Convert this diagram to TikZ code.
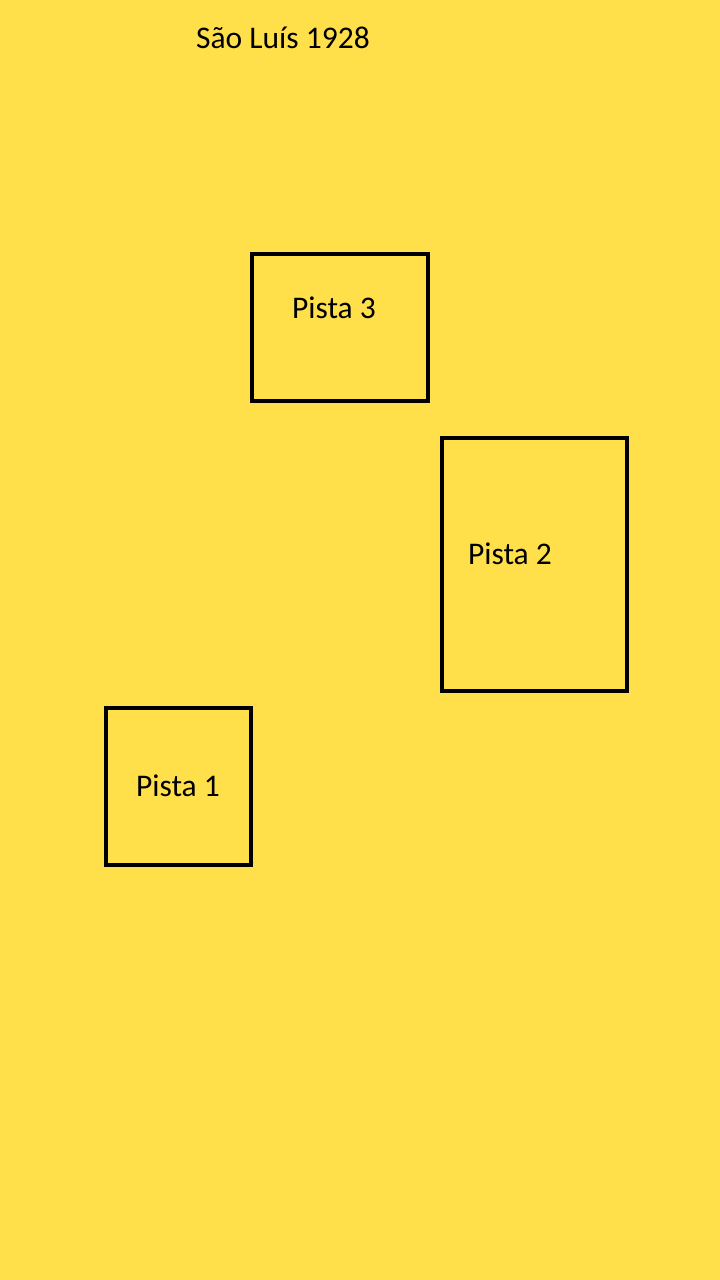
\documentclass[tikz,border=0pt]{standalone}
\usepackage{fontspec}
\setmainfont{Carlito}
\definecolor{bg}{HTML}{FFE04B}
\begin{document}
\begin{tikzpicture}[x=1pt,y=-1pt,
  pista/.style={draw=black,line width=4pt},
  lbl/.style={font=\fontsize{31.5pt}{36pt}\selectfont,text=black,inner sep=0pt}]
\fill[bg] (0,0) rectangle (720,1280);
\useasboundingbox (0,0) rectangle (720,1280);
\node[lbl] (title) at (283,38) {São Luís 1928};
\draw[pista] (252,254) rectangle (428,401);
\node[lbl] (p3) at (334,308) {Pista 3};
\draw[pista] (442,438) rectangle (627,691);
\node[lbl] (p2) at (510,554) {Pista 2};
\draw[pista] (106,708) rectangle (251,865);
\node[lbl] (p1) at (178,786) {Pista 1};
\end{tikzpicture}
\end{document}
